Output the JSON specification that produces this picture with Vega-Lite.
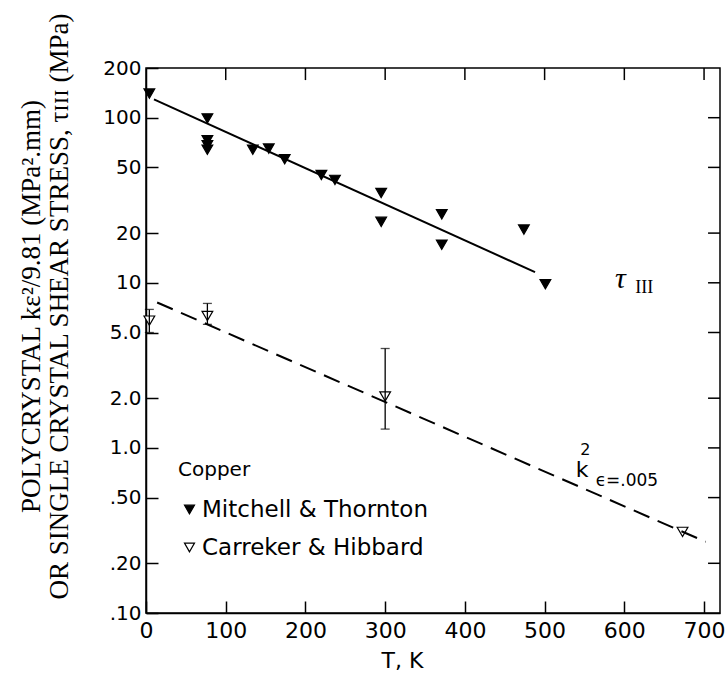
{
  "$schema": "https://vega.github.io/schema/vega-lite/v6.json",
  "autosize": "none",
  "width": 574,
  "height": 545,
  "padding": {"left": 146, "top": 68, "right": 5, "bottom": 75},
  "background": "white",
  "config": {
    "view": {"stroke": "black", "strokeWidth": 1.5},
    "axis": {"grid": false, "domainColor": "black", "domainWidth": 1.5, "tickColor": "black", "tickWidth": 1.5, "labelColor": "black", "titleColor": "black"}
  },
  "datasets": {
    "pts": [
      {"T": 4.2, "v": 140, "series": "Mitchell & Thornton"},
      {"T": 77, "v": 99, "series": "Mitchell & Thornton"},
      {"T": 77, "v": 73, "series": "Mitchell & Thornton"},
      {"T": 77, "v": 68, "series": "Mitchell & Thornton"},
      {"T": 77, "v": 64, "series": "Mitchell & Thornton"},
      {"T": 134, "v": 64, "series": "Mitchell & Thornton"},
      {"T": 154, "v": 65, "series": "Mitchell & Thornton"},
      {"T": 174, "v": 56, "series": "Mitchell & Thornton"},
      {"T": 220, "v": 45, "series": "Mitchell & Thornton"},
      {"T": 237, "v": 42, "series": "Mitchell & Thornton"},
      {"T": 295, "v": 35, "series": "Mitchell & Thornton"},
      {"T": 295, "v": 23.4, "series": "Mitchell & Thornton"},
      {"T": 371, "v": 26, "series": "Mitchell & Thornton"},
      {"T": 371, "v": 17, "series": "Mitchell & Thornton"},
      {"T": 474, "v": 21, "series": "Mitchell & Thornton"},
      {"T": 501, "v": 9.8, "series": "Mitchell & Thornton"},
      {"T": 4.2, "v": 5.9, "series": "Carreker & Hibbard"},
      {"T": 77, "v": 6.3, "series": "Carreker & Hibbard"},
      {"T": 300, "v": 2.05, "series": "Carreker & Hibbard"},
      {"T": 673, "v": 0.31, "series": "Carreker & Hibbard"}
    ],
    "err": [
      {"T": 4.2, "lo": 5.0, "hi": 6.9},
      {"T": 77, "lo": 5.6, "hi": 7.5},
      {"T": 300, "lo": 1.3, "hi": 4.0}
    ],
    "fit1": [{"T": 10, "v": 129}, {"T": 488, "v": 11.6}],
    "fit2": [{"T": 14, "v": 7.6}, {"T": 702, "v": 0.27}],
    "xticks": [{"T": 100}, {"T": 200}, {"T": 300}, {"T": 400}, {"T": 500}, {"T": 600}, {"T": 700}],
    "yticks": [{"v": 0.2}, {"v": 0.5}, {"v": 1}, {"v": 2}, {"v": 5}, {"v": 10}, {"v": 20}, {"v": 50}, {"v": 100}]
  },
  "resolve": {"axis": {"x": "independent", "y": "independent"}},
  "layer": [
    {
      "data": {"name": "pts"},
      "mark": {"type": "point", "shape": "triangle-down", "filled": true, "stroke": "black", "strokeWidth": 1.2, "size": 115, "opacity": 1},
      "encoding": {
        "x": {"field": "T", "type": "quantitative", "scale": {"domain": [0, 720], "nice": false, "zero": false},
              "axis": {"orient": "bottom", "values": [0, 100, 200, 300, 400, 500, 600, 700], "tickSize": -12, "labelPadding": 19,
                       "labelFont": "DejaVu Sans", "labelFontSize": 22, "labelFlush": false,
                       "title": "T,  K", "titleFont": "DejaVu Sans", "titleFontSize": 22, "titleFontWeight": "normal",
                       "titleX": 256, "titleY": 47, "titleBaseline": "middle"}},
        "y": {"field": "v", "type": "quantitative", "scale": {"type": "log", "domain": [0.1, 200], "nice": false},
              "axis": {"orient": "left", "values": [0.1, 0.2, 0.5, 1, 2, 5, 10, 20, 50, 100, 200], "tickSize": -12, "labelPadding": 17,
                       "labelFont": "DejaVu Sans", "labelFontSize": 20, "labelFlush": false,
                       "labelExpr": "datum.value >= 10 ? format(datum.value, 'd') : datum.value >= 1 ? format(datum.value, '.1f') : replace(format(datum.value, '.2f'), '0.', '.')",
                       "title": ["POLYCRYSTAL kε²/9.81 (MPa².mm)", "OR SINGLE CRYSTAL SHEAR STRESS, τɪɪɪ (MPa)"],
                       "titleFont": "Liberation Serif", "titleFontSize": 27, "titleFontWeight": "normal", "titleLineHeight": 28,
                       "titleX": -115, "titleY": 238, "titleAngle": -90, "titleAlign": "center", "titleBaseline": "middle"}},
        "fill": {"field": "series", "type": "nominal",
                 "scale": {"domain": ["Mitchell & Thornton", "Carreker & Hibbard"], "range": ["black", "white"]},
                 "legend": {"title": "Copper", "orient": "none", "legendX": 32, "legendY": 392,
                            "titleFont": "DejaVu Sans", "titleFontSize": 20, "titleFontWeight": "normal", "titleColor": "black", "titlePadding": 18,
                            "labelFont": "DejaVu Sans", "labelFontSize": 23, "labelColor": "black", "labelOffset": 1, "rowPadding": 14, "labelLimit": 400,
                            "symbolType": "triangle-down", "symbolSize": 100, "symbolStrokeColor": "black", "symbolStrokeWidth": 1.2}}
      }
    },
    {
      "data": {"name": "xticks"},
      "mark": {"type": "rule", "color": "black", "strokeWidth": 1.5},
      "encoding": {
        "x": {"field": "T", "type": "quantitative", "axis": null},
        "y": {"datum": 200, "type": "quantitative", "axis": null},
        "y2": {"datum": 169}
      }
    },
    {
      "data": {"name": "yticks"},
      "mark": {"type": "rule", "color": "black", "strokeWidth": 1.5},
      "encoding": {
        "x": {"datum": 720, "type": "quantitative", "axis": null},
        "x2": {"datum": 705},
        "y": {"field": "v", "type": "quantitative", "axis": null}
      }
    },
    {
      "data": {"name": "fit1"},
      "mark": {"type": "line", "color": "black", "strokeWidth": 2},
      "encoding": {
        "x": {"field": "T", "type": "quantitative", "axis": null},
        "y": {"field": "v", "type": "quantitative", "axis": null}
      }
    },
    {
      "data": {"name": "fit2"},
      "mark": {"type": "line", "color": "black", "strokeWidth": 2, "strokeDash": [17, 9]},
      "encoding": {
        "x": {"field": "T", "type": "quantitative", "axis": null},
        "y": {"field": "v", "type": "quantitative", "axis": null}
      }
    },
    {
      "data": {"name": "err"},
      "mark": {"type": "errorbar", "ticks": {"size": 9, "color": "black", "thickness": 1.3}, "rule": {"color": "black", "strokeWidth": 1.3}},
      "encoding": {
        "x": {"field": "T", "type": "quantitative", "axis": null},
        "y": {"field": "lo", "type": "quantitative", "axis": null},
        "y2": {"field": "hi"}
      }
    },
    {
      "data": {"values": [{"T": 595, "v": 10.6, "t": "τ"}]},
      "mark": {"type": "text", "font": "Liberation Serif", "fontSize": 30, "fontStyle": "italic", "color": "black", "align": "center", "baseline": "middle"},
      "encoding": {"x": {"field": "T", "type": "quantitative", "axis": null}, "y": {"field": "v", "type": "quantitative", "axis": null}, "text": {"field": "t"}}
    },
    {
      "data": {"values": [{"T": 625, "v": 9.3, "t": "III"}]},
      "mark": {"type": "text", "font": "Liberation Serif", "fontSize": 18, "color": "black", "align": "center", "baseline": "middle"},
      "encoding": {"x": {"field": "T", "type": "quantitative", "axis": null}, "y": {"field": "v", "type": "quantitative", "axis": null}, "text": {"field": "t"}}
    },
    {
      "data": {"values": [{"T": 547, "v": 0.735, "t": "k"}]},
      "mark": {"type": "text", "font": "DejaVu Sans", "fontSize": 22, "color": "black", "align": "center", "baseline": "middle"},
      "encoding": {"x": {"field": "T", "type": "quantitative", "axis": null}, "y": {"field": "v", "type": "quantitative", "axis": null}, "text": {"field": "t"}}
    },
    {
      "data": {"values": [{"T": 551, "v": 0.97, "t": "2"}]},
      "mark": {"type": "text", "font": "DejaVu Sans", "fontSize": 16, "color": "black", "align": "center", "baseline": "middle"},
      "encoding": {"x": {"field": "T", "type": "quantitative", "axis": null}, "y": {"field": "v", "type": "quantitative", "axis": null}, "text": {"field": "t"}}
    },
    {
      "data": {"values": [{"T": 564, "v": 0.63, "t": "ϵ=.005"}]},
      "mark": {"type": "text", "font": "DejaVu Sans", "fontSize": 17, "color": "black", "align": "left", "baseline": "middle"},
      "encoding": {"x": {"field": "T", "type": "quantitative", "axis": null}, "y": {"field": "v", "type": "quantitative", "axis": null}, "text": {"field": "t"}}
    }
  ]
}
